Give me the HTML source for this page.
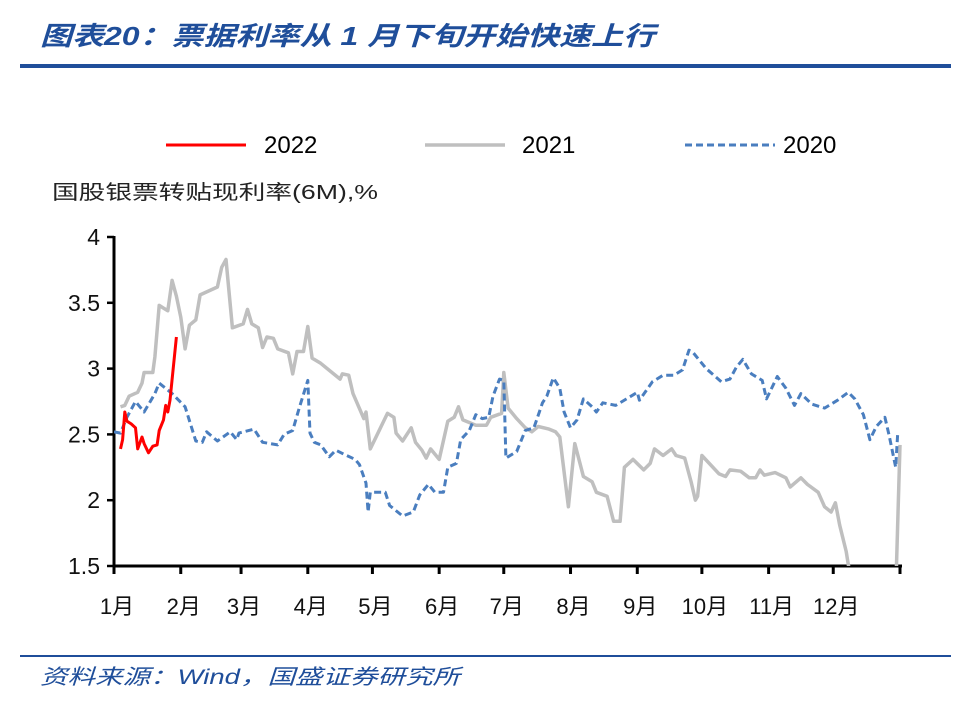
<!DOCTYPE html>
<html><head><meta charset="utf-8"><style>
body{margin:0;background:#fff;width:970px;height:705px;overflow:hidden;font-family:"Liberation Sans","Noto Sans CJK SC",sans-serif;}
</style></head><body>
<svg width="970" height="705" xmlns="http://www.w3.org/2000/svg">
<text x="40" y="45" font-size="26" font-weight="bold" font-style="italic" fill="#1f4e9a" textLength="615" lengthAdjust="spacingAndGlyphs" font-family="Liberation Sans, Noto Sans CJK SC, sans-serif">图表20：票据利率从 1 月下旬开始快速上行</text>
<rect x="20" y="64" width="931" height="4" fill="#1f4e9a"/>
<g>
<line x1="166" y1="145" x2="246" y2="145" stroke="#ff0000" stroke-width="3"/>
<text x="264" y="153" font-size="24">2022</text>
<line x1="425" y1="145" x2="505" y2="145" stroke="#bfbfbf" stroke-width="3.5"/>
<text x="522" y="153" font-size="24">2021</text>
<line x1="685" y1="145" x2="775" y2="145" stroke="#4a7ebf" stroke-width="3" stroke-dasharray="7,4"/>
<text x="783" y="153" font-size="24">2020</text>
</g>
<text x="52" y="199" font-size="20" fill="#222" textLength="326" lengthAdjust="spacingAndGlyphs">国股银票转贴现利率(6M),%</text>
<g id="axes"></g>
<defs><clipPath id="plot"><rect x="114" y="230" width="790" height="336"/></clipPath></defs>
<g id="series" clip-path="url(#plot)"></g>
<rect x="20" y="655" width="931" height="2" fill="#1f4e9a"/>
<text x="40" y="684" font-size="21" font-style="italic" fill="#1f4e9a" textLength="420" lengthAdjust="spacingAndGlyphs">资料来源：Wind，国盛证券研究所</text>
</svg>
<script>
const yTicks=[1.5,2,2.5,3,3.5,4];
const yTickLabels=["1.5","2","2.5","3","3.5","4"];
const monthLabels=["1月","2月","3月","4月","5月","6月","7月","8月","9月","10月","11月","12月"];
const monthStarts=[0,31,59,90,120,151,181,212,243,273,304,334,365];
const d2022=[3,4,5,6,8,10,11,13,14,16,18,20,21,23,24,25,26,29];
const v2022=[2.39,2.46,2.67,2.60,2.58,2.55,2.39,2.48,2.43,2.36,2.41,2.42,2.53,2.61,2.72,2.67,2.76,3.24];
const d2021=[3,5,7,11,13,14,18,19,21,23,25,27,29,31,33,35,38,40,48,50,52,55,60,62,64,67,69,71,74,76,81,83,85,88,90,92,96,99,105,106,109,111,116,117,119,127,130,131,134,138,140,143,145,147,151,155,158,160,162,168,173,175,180,181,183,187,191,194,197,202,205,207,211,214,218,222,224,229,232,235,237,241,246,249,251,255,259,261,265,268,270,271,273,281,284,286,291,295,298,300,302,307,312,314,319,322,327,330,333,335,337,340,341,344,363,365];
const v2021=[2.71,2.72,2.79,2.82,2.89,2.97,2.97,3.09,3.48,3.46,3.44,3.67,3.55,3.39,3.15,3.33,3.37,3.56,3.62,3.77,3.83,3.31,3.34,3.45,3.34,3.31,3.16,3.24,3.23,3.15,3.12,2.96,3.13,3.13,3.32,3.08,3.04,3.00,2.92,2.96,2.95,2.81,2.62,2.67,2.39,2.66,2.63,2.51,2.45,2.55,2.44,2.38,2.32,2.39,2.31,2.60,2.63,2.71,2.61,2.57,2.57,2.63,2.66,2.97,2.70,2.62,2.55,2.52,2.56,2.54,2.52,2.48,1.95,2.43,2.18,2.14,2.06,2.03,1.84,1.84,2.25,2.31,2.23,2.28,2.39,2.34,2.39,2.34,2.32,2.14,2.00,2.03,2.34,2.20,2.18,2.23,2.22,2.17,2.17,2.23,2.19,2.21,2.17,2.10,2.17,2.12,2.06,1.95,1.91,1.98,1.81,1.61,1.51,1.3,1.3,2.42];
const d2020=[0,3,6,10,14,19,21,27,33,38,41,43,48,54,57,58,65,69,76,79,83,86,90,91,93,96,100,103,108,112,114,117,118,119,126,128,134,139,142,146,149,153,155,159,161,165,168,171,174,176,179,181,182,187,191,195,199,201,204,207,209,212,215,218,222,224,227,233,238,243,244,250,255,260,264,267,269,275,282,286,289,292,296,301,303,308,312,316,319,324,330,336,341,344,348,351,354,358,360,363,364];
const v2020=[2.52,2.51,2.63,2.75,2.67,2.81,2.89,2.81,2.71,2.45,2.44,2.52,2.45,2.52,2.46,2.51,2.54,2.44,2.42,2.50,2.53,2.70,2.91,2.51,2.44,2.42,2.33,2.38,2.34,2.31,2.27,2.13,1.91,2.06,2.06,1.96,1.88,1.91,2.04,2.12,2.06,2.06,2.25,2.28,2.46,2.53,2.65,2.62,2.63,2.79,2.92,2.91,2.32,2.37,2.53,2.55,2.74,2.79,2.93,2.85,2.67,2.55,2.61,2.77,2.71,2.67,2.74,2.72,2.77,2.82,2.76,2.90,2.95,2.95,2.99,3.14,3.12,3.00,2.90,2.92,3.01,3.07,2.96,2.91,2.77,2.94,2.85,2.72,2.81,2.73,2.70,2.76,2.82,2.77,2.65,2.46,2.56,2.63,2.49,2.25,2.52];

const NS="http://www.w3.org/2000/svg";
const X0=114,X1=900,Y0=566,Y1=237;
function xs(d){return X0+(d/365)*(X1-X0);}
function ys(v){return Y0-(v-1.5)/(4-1.5)*(Y0-Y1);}
function mk(tag,attrs,parent){const e=document.createElementNS(NS,tag);for(const k in attrs)e.setAttribute(k,attrs[k]);parent.appendChild(e);return e;}
const axes=document.getElementById('axes');
const ya=mk('line',{x1:X0,y1:Y1-1,x2:X0,y2:Y0,stroke:'#000','stroke-width':3},axes);


yTicks.forEach((t,i)=>{
 const tk=mk('line',{x1:X0-7,x2:X0,y1:ys(t),y2:ys(t),stroke:'#000','stroke-width':2.5},axes);
 
 
 const tx=mk('text',{x:X0-14,y:ys(t)+8,'font-size':23,'text-anchor':'end',fill:'#111'},axes);
 tx.textContent=yTickLabels[i];
 
 
});
const xa=mk('line',{x1:X0,y1:Y0,x2:X1+2,y2:Y0,stroke:'#000','stroke-width':3},axes);


monthStarts.forEach(d=>{
 const tk=mk('line',{x1:xs(d),x2:xs(d),y1:Y0,y2:Y0+8,stroke:'#000','stroke-width':3},axes);
 
 
});
monthLabels.forEach((m,i)=>{
 const tx=mk('text',{x:xs(monthStarts[i])+3,y:614,'font-size':22,'text-anchor':'middle',fill:'#111'},axes);
 tx.textContent=m;
 
 
});
const ser=document.getElementById('series');
function line(ds,vs,attrs,name){
 const pts=ds.map((d,i)=>xs(d).toFixed(1)+','+ys(vs[i]).toFixed(1)).join(' ');
 const p=mk('polyline',Object.assign({points:pts,fill:'none','stroke-linejoin':'round'},attrs),ser);
 
 
}
line(d2021,v2021,{stroke:'#bfbfbf','stroke-width':3.5},'series-2021');
line(d2020,v2020,{stroke:'#4a7ebf','stroke-width':3,'stroke-dasharray':'7,4'},'series-2020');
line(d2022,v2022,{stroke:'#ff0000','stroke-width':3},'series-2022');
</script>
</body></html>
